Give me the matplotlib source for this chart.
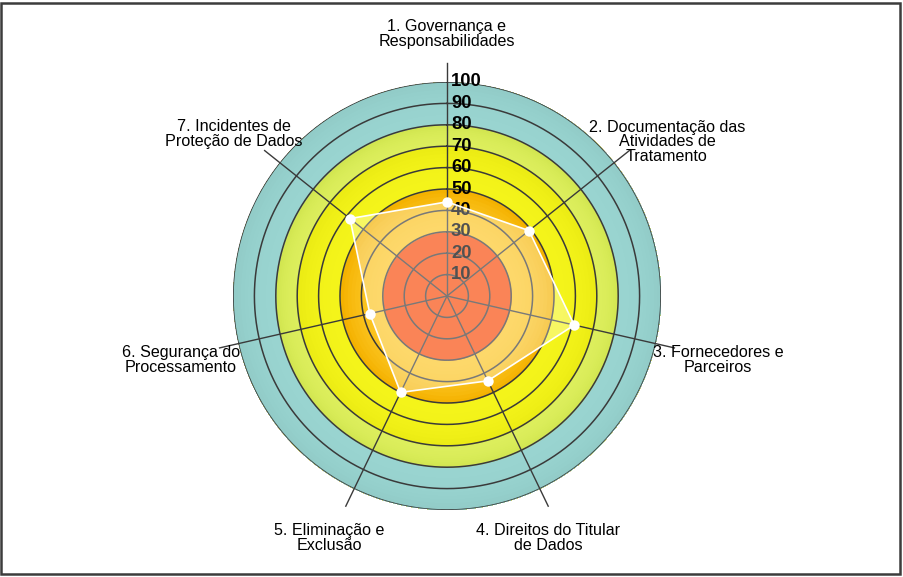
import numpy as np
import matplotlib
matplotlib.use("Agg")
import matplotlib.pyplot as plt
from matplotlib.colors import to_rgb
from matplotlib.patches import Rectangle
import matplotlib.transforms as mtransforms

# ---------------- data ----------------
categories = [
    "1. Governança e\nResponsabilidades",
    "2. Documentação das\nAtividades de\nTratamento",
    "3. Fornecedores e\nParceiros",
    "4. Direitos do Titular\nde Dados",
    "5. Eliminação e\nExclusão",
    "6. Segurança do\nProcessamento",
    "7. Incidentes de\nProteção de Dados",
]
values = [44, 49, 61, 44, 50, 37, 58]
ticks = [10, 20, 30, 40, 50, 60, 70, 80, 90, 100]
# bands: (start, end, inner colour, outer colour)
band_edges = [0, 30, 50, 70, 80, 100]
band_inner = ["#F84B08", "#FDC624", "#F4F41A", "#DCEE5C", "#99D4D0"]
band_outer = ["#F84B08", "#F4B200", "#ECEC14", "#D2E650", "#92CCC8"]
# label positions in pixels (figure, from top-left)
label_px = [(447, 34), (667, 142), (718, 360), (548, 538), (329, 538), (181, 360), (234, 134)]

W, H = 904, 577
plt.rcParams['font.family'] = ['Liberation Sans', 'DejaVu Sans']
fig = plt.figure(figsize=(W / 100, H / 100), dpi=100)
fig.patch.set_facecolor("white")

cx, cy, R = 447, 296, 214
ax = fig.add_axes([(cx - R) / W, (H - cy - R) / H, 2 * R / W, 2 * R / H], projection="polar")
ax.set_theta_zero_location("N")
ax.set_theta_direction(-1)
ax.set_ylim(0, 100)
ax.set_facecolor("none")
ax.spines["polar"].set_visible(False)
ax.grid(False)
ax.set_xticks([])
ax.set_yticks([])

th = np.linspace(0, 2 * np.pi, 721)
rmax = band_edges[-1]

# coloured bands with slight radial gradient (each strip drawn out to the edge, overlapping -> no seams)
nstrip = 12
for i in range(len(band_edges) - 1):
    r0, r1 = band_edges[i], band_edges[i + 1]
    ci, co = np.array(to_rgb(band_inner[i])), np.array(to_rgb(band_outer[i]))
    edges = np.linspace(r0, r1, nstrip + 1)
    for k in range(nstrip):
        t = (k / (nstrip - 1)) ** 2
        col = ci * (1 - t) + co * t
        top = rmax if k < nstrip - 1 or i < len(band_edges) - 2 else r1
        ax.fill_between(th, edges[k], top, color=col, lw=0, zorder=1)

# ring grid lines
for r in ticks:
    ax.plot(th, np.full_like(th, r), color="#3a3a3a", lw=1.1, zorder=2)

# spokes
n = len(categories)
angles = np.arange(n) * 2 * np.pi / n
for a in angles:
    ax.plot([a, a], [0, 109], color="#3a3a3a", lw=1.0, zorder=2, clip_on=False)

# tick labels
off = mtransforms.offset_copy(ax.transData, fig=fig, x=4, y=0, units="dots")
for r in ticks:
    ax.text(0, r, str(r), transform=off, ha="left", va="center", fontsize=13.3,
            fontweight="bold", color="black", zorder=3)

# data polygon
va = np.array(values + values[:1], dtype=float)
aa = np.append(angles, angles[0])
ax.fill(aa, va, color="white", alpha=0.32, lw=0, zorder=4)
ax.plot(aa, va, color="white", lw=1.2, zorder=5)
ax.plot(angles, values, "o", color="white", markersize=7.5, markeredgewidth=0, zorder=6)

# category labels
for lab, (px, py) in zip(categories, label_px):
    fig.text(px / W, 1 - py / H, lab, ha="center", va="center", fontsize=11.6,
             color="black", linespacing=0.98)

# figure frame
fig.patches.append(Rectangle((1.5 / W, 3.5 / H), 899 / W, 571 / H, transform=fig.transFigure,
                             fill=False, edgecolor="#3c3c3c", lw=1.8))

fig.savefig("out.png", dpi=100)
